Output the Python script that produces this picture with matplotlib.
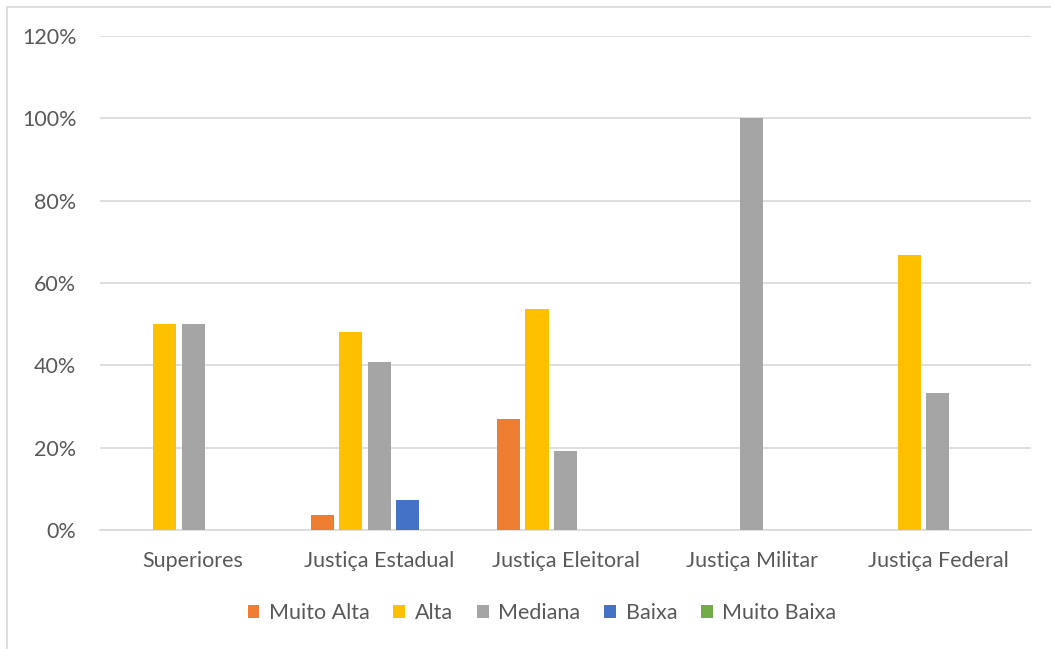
import matplotlib
matplotlib.use("Agg")
import matplotlib.pyplot as plt
import numpy as np
from matplotlib.patches import Rectangle

categories = ["Superiores", "Justiça Estadual", "Justiça Eleitoral", "Justiça Militar", "Justiça Federal"]
series_names = ["Muito Alta", "Alta", "Mediana", "Baixa", "Muito Baixa"]
muito_alta = [0.0, 3.7, 26.9, 0.0, 0.0]
alta = [50.0, 48.1, 53.8, 0.0, 66.7]
mediana = [50.0, 40.7, 19.2, 100.0, 33.3]
baixa = [0.0, 7.4, 0.0, 0.0, 0.0]
muito_baixa = [0.0, 0.0, 0.0, 0.0, 0.0]
colors = ["#ED7D31", "#FFC000", "#A5A5A5", "#4472C4", "#70AD47"]
yticks = [0, 20, 40, 60, 80, 100, 120]

plt.rcParams['font.family'] = ['Lato', 'DejaVu Sans']
W, H = 1051, 649
fig = plt.figure(figsize=(W/100, H/100), dpi=100)
ax = fig.add_axes([100/W, 1-530/H, (1031-100)/W, (530-36)/H])

fig.patches.append(Rectangle((7/W, -0.01), (W-7)/W + 0.01, 1 - 7/H + 0.01, transform=fig.transFigure,
                             fill=False, edgecolor="#D9D9D9", linewidth=1.2))

x = np.arange(len(categories))
step = 0.153
bw = 0.124
data = [muito_alta, alta, mediana, baixa, muito_baixa]
for i, (vals, name, c) in enumerate(zip(data, series_names, colors)):
    ax.bar(x + (i - 2) * step, vals, width=bw, color=c, label=name, zorder=3)

ax.set_xlim(-0.5, len(categories) - 0.5)
ax.set_ylim(0, 120)
ax.set_yticks(yticks)
ax.set_yticklabels([f"{v}%" for v in yticks])
ax.set_xticks(x)
ax.set_xticklabels(categories)
ax.yaxis.grid(True, color="#D9D9D9", linewidth=1.2, zorder=0)
ax.tick_params(axis='both', length=0, labelsize=15.5, labelcolor="#595959")
ax.tick_params(axis='y', pad=17)
ax.tick_params(axis='x', pad=15)
for s in ["top", "right", "left"]:
    ax.spines[s].set_visible(False)
ax.spines["bottom"].set_color("#D9D9D9")
ax.spines["bottom"].set_linewidth(1.2)

leg = fig.legend(loc="center", bbox_to_anchor=(542/W, 1-613/H), ncol=5, frameon=False,
                 fontsize=15.5, handlelength=0.55, handleheight=0.55, handletextpad=0.45,
                 columnspacing=1.1)
for t in leg.get_texts():
    t.set_color("#595959")

fig.savefig("out.png", dpi=100)
